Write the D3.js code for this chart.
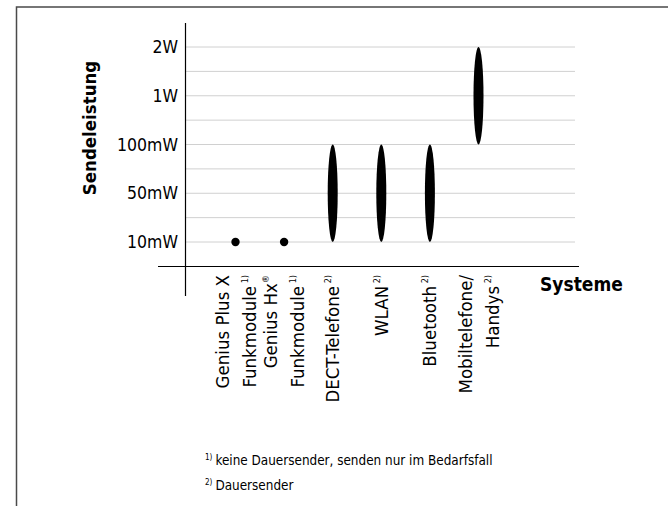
<!DOCTYPE html>
<html>
<head>
<meta charset="utf-8">
<script src="https://cdn.jsdelivr.net/npm/d3@7"></script>
<style>
  body { margin: 0; background: #fff; }
  svg { display: block; }
  text { font-family: "Liberation Sans Narrow", "DejaVu Sans Condensed", "Noto Sans", sans-serif; fill: #000; }
</style>
</head>
<body>
<svg id="chart" width="668" height="506"></svg>
<script>
// Systeme (Beschriftung in Zeilen) und Fußnotenverweis
const systemLines = [["Genius Plus X", "Funkmodule"], ["Genius Hx®", "Funkmodule"], ["DECT-Telefone"], ["WLAN"], ["Bluetooth"], ["Mobiltelefone/", "Handys"]];
const systemNotes = ["1)", "1)", "2)", "2)", "2)", "2)"];

// Leistungsstufen (Achse) und Bereiche je System
const powerLevels = ["10mW", "50mW", "100mW", "1W", "2W"];
const minPower = ["10mW", "10mW", "10mW", "10mW", "10mW", "100mW"];
const maxPower = ["10mW", "10mW", "100mW", "100mW", "100mW", "2W"];

const footnotes = [["1)", "keine Dauersender, senden nur im Bedarfsfall"], ["2)", "Dauersender"]];

const svg = d3.select("#chart");

// frame
svg.append("path")
  .attr("d", "M16.5,506 V7 H668")
  .attr("fill", "none")
  .attr("stroke", "#4a4a4a")
  .attr("stroke-width", 1.5);

// y position: every level gets two grid steps
const rank = p => powerLevels.indexOf(p) * 2;
const y = d3.scaleLinear().domain([0, (powerLevels.length - 1) * 2]).range([242, 47]);
const x = d3.scalePoint().domain(d3.range(systemLines.length)).range([235.5, 478.5]);

// grid lines
svg.append("g")
  .selectAll("line")
  .data(d3.range(0, (powerLevels.length - 1) * 2 + 1))
  .enter().append("line")
  .attr("x1", 185).attr("x2", 575)
  .attr("y1", d => y(d)).attr("y2", d => y(d))
  .attr("stroke", "#d0d0d0")
  .attr("stroke-width", 1);

// y axis
const yAxis = svg.append("g")
  .attr("transform", "translate(185,0)")
  .call(d3.axisLeft(y).tickValues(powerLevels.map(rank)).tickFormat(d => powerLevels[d / 2]).tickSize(0).tickPadding(7));
yAxis.select(".domain").remove();
yAxis.selectAll("text").attr("font-size", 17.5).attr("font-family", null);

svg.append("line")
  .attr("x1", 185.5).attr("x2", 185.5).attr("y1", 23).attr("y2", 296)
  .attr("stroke", "#000").attr("stroke-width", 1.2);
svg.append("line")
  .attr("x1", 158).attr("x2", 579).attr("y1", 266.5).attr("y2", 266.5)
  .attr("stroke", "#000").attr("stroke-width", 1.2);

// marks
const marks = svg.append("g");
systemLines.forEach((s, i) => {
  const y0 = y(rank(minPower[i])), y1 = y(rank(maxPower[i]));
  if (y0 === y1) {
    marks.append("circle").attr("cx", x(i)).attr("cy", y0).attr("r", 4.2).attr("fill", "#000");
  } else {
    marks.append("ellipse").attr("cx", x(i)).attr("cy", (y0 + y1) / 2)
      .attr("rx", 5).attr("ry", (y0 - y1) / 2).attr("fill", "#000");
  }
});

// rotated category labels
const lineGap = 27;
systemLines.forEach((lines, i) => {
  const g = svg.append("g").attr("transform", `translate(${x(i)},275) rotate(-90)`);
  lines.forEach((ln, j) => {
    const off = (j - (lines.length - 1) / 2) * lineGap + 6.5;
    const t = g.append("text")
      .attr("x", 0).attr("y", off)
      .attr("text-anchor", "end")
      .attr("font-size", 18.5);
    if (ln.endsWith("®")) {
      t.append("tspan").text(ln.slice(0, -1));
      t.append("tspan").attr("font-size", 9).attr("dy", -8).text("®");
    } else {
      t.append("tspan").text(ln);
    }
    if (j === lines.length - 1) {
      t.append("tspan").attr("font-size", 9).attr("dy", ln.endsWith("®") ? 0 : -8).text(" " + systemNotes[i]);
    }
  });
});

// axis titles
svg.append("text")
  .attr("transform", "translate(96,128) rotate(-90)")
  .attr("text-anchor", "middle")
  .attr("font-size", 18.5).attr("font-weight", "bold")
  .text("Sendeleistung");

svg.append("text")
  .attr("x", 540).attr("y", 291)
  .attr("font-size", 19).attr("font-weight", "bold")
  .text("Systeme");

// footnotes
footnotes.forEach((f, i) => {
  const t = svg.append("text").attr("x", 205).attr("y", 465 + i * 25).attr("font-size", 13.4);
  t.append("tspan").attr("font-size", 8).attr("dy", -5).text(f[0]);
  t.append("tspan").attr("dy", 5).attr("dx", 3).text(f[1]);
});
</script>
</body>
</html>
